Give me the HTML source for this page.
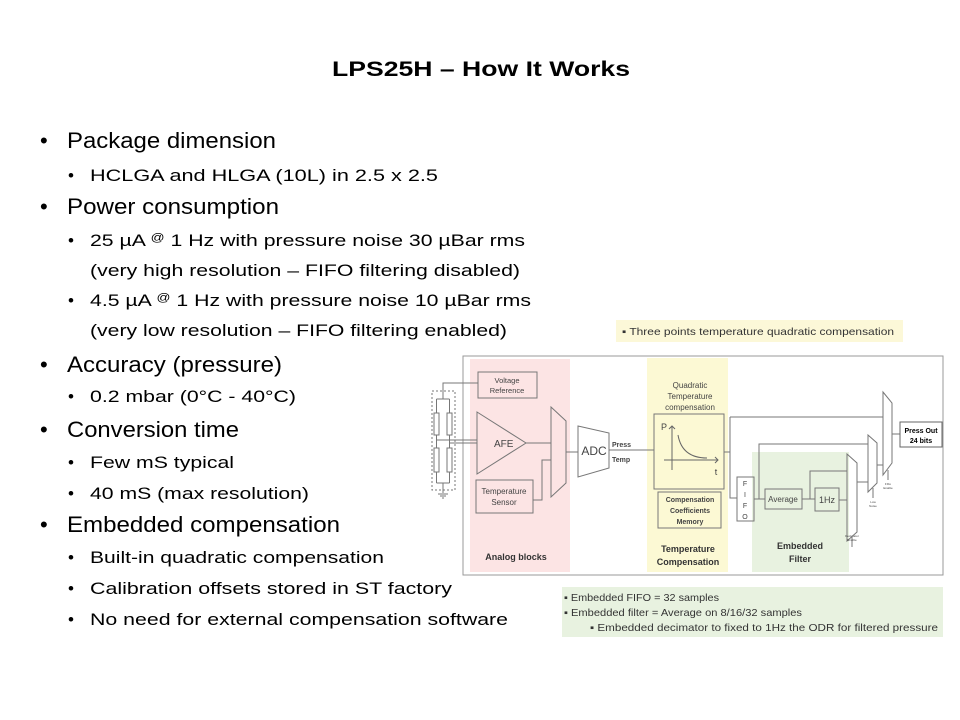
<!DOCTYPE html>
<html><head><meta charset="utf-8"><style>
html,body{margin:0;padding:0;background:#fff;}
svg{display:block;}
text{font-family:"Liberation Sans",Arial,sans-serif;}
</style></head><body>
<svg width="960" height="720" viewBox="0 0 960 720" xmlns="http://www.w3.org/2000/svg">
<rect width="960" height="720" fill="#fff"/>
<text x="481" y="76" font-size="21" font-weight="bold" text-anchor="middle" textLength="298" lengthAdjust="spacingAndGlyphs">LPS25H – How It Works</text>

<g font-size="22" fill="#000">
<text x="40" y="148">•</text><text x="67" y="148" textLength="209" lengthAdjust="spacingAndGlyphs">Package dimension</text>
<text x="40" y="214">•</text><text x="67" y="214" textLength="212" lengthAdjust="spacingAndGlyphs">Power consumption</text>
<text x="40" y="372">•</text><text x="67" y="372" textLength="215" lengthAdjust="spacingAndGlyphs">Accuracy (pressure)</text>
<text x="40" y="437">•</text><text x="67" y="437" textLength="172" lengthAdjust="spacingAndGlyphs">Conversion time</text>
<text x="40" y="532">•</text><text x="67" y="532" textLength="273" lengthAdjust="spacingAndGlyphs">Embedded compensation</text>
</g>
<g font-size="17" fill="#000">
<text x="68" y="181">•</text><text x="90" y="181" textLength="348" lengthAdjust="spacingAndGlyphs">HCLGA and HLGA (10L) in  2.5 x 2.5</text>
<text x="68" y="246">•</text><text x="90" y="246" textLength="435" lengthAdjust="spacingAndGlyphs">25 µA <tspan font-size="11" dy="-5">@</tspan><tspan dy="5"> 1 Hz with pressure noise 30 µBar rms</tspan></text>
<text x="90" y="276" textLength="430" lengthAdjust="spacingAndGlyphs">(very high resolution – FIFO filtering disabled)</text>
<text x="68" y="306">•</text><text x="90" y="306" textLength="441" lengthAdjust="spacingAndGlyphs">4.5 µA <tspan font-size="11" dy="-5">@</tspan><tspan dy="5"> 1 Hz with pressure noise 10 µBar rms</tspan></text>
<text x="90" y="336" textLength="417" lengthAdjust="spacingAndGlyphs">(very low resolution – FIFO filtering enabled)</text>
<text x="68" y="402">•</text><text x="90" y="402" textLength="206" lengthAdjust="spacingAndGlyphs">0.2 mbar (0°C - 40°C)</text>
<text x="68" y="468">•</text><text x="90" y="468" textLength="144" lengthAdjust="spacingAndGlyphs">Few mS typical</text>
<text x="68" y="499">•</text><text x="90" y="499" textLength="219" lengthAdjust="spacingAndGlyphs">40 mS (max resolution)</text>
<text x="68" y="563">•</text><text x="90" y="563" textLength="294" lengthAdjust="spacingAndGlyphs">Built-in quadratic compensation</text>
<text x="68" y="594">•</text><text x="90" y="594" textLength="362" lengthAdjust="spacingAndGlyphs">Calibration offsets stored in ST factory</text>
<text x="68" y="625">•</text><text x="90" y="625" textLength="418" lengthAdjust="spacingAndGlyphs">No need for external compensation software</text>
</g>

<!-- notes -->
<rect x="616" y="320" width="287" height="22" fill="#fcf8d8"/>
<text x="622" y="335" font-size="10.5" fill="#333" textLength="272" lengthAdjust="spacingAndGlyphs">▪ Three points temperature quadratic compensation</text>
<rect x="562" y="587" width="381" height="50" fill="#e8f2e0"/>
<g font-size="10.5" fill="#333">
<text x="564" y="601" textLength="155" lengthAdjust="spacingAndGlyphs">▪ Embedded FIFO = 32 samples</text>
<text x="564" y="616" textLength="238" lengthAdjust="spacingAndGlyphs">▪ Embedded filter = Average on 8/16/32 samples</text>
<text x="590" y="631" textLength="348" lengthAdjust="spacingAndGlyphs">▪ Embedded decimator to fixed to 1Hz the ODR for filtered pressure</text>
</g>

<!-- frame -->
<rect x="463" y="356" width="480" height="219" fill="#fff" stroke="#999" stroke-width="1"/>
<rect x="470" y="359" width="100" height="213" fill="#fce4e4"/>
<rect x="647" y="358" width="81" height="214" fill="#fcf9d4"/>
<rect x="752" y="452" width="97" height="120" fill="#e8f2e0"/>

<g fill="none" stroke="#777" stroke-width="1">
<!-- bridge -->
<rect x="432" y="391" width="23" height="99" stroke-dasharray="2,2"/>
<path d="M436.5 399 H449.5 M436.5 399 V483 M449.5 399 V483 M436.5 483 H449.5 M443 483 V493 M438 494 H448 M440 496 H446 M442 498 H444"/>
<rect x="434" y="413" width="5" height="22" fill="#fff"/>
<rect x="447" y="413" width="5" height="22" fill="#fff"/>
<rect x="434" y="448" width="5" height="24" fill="#fff"/>
<rect x="447" y="448" width="5" height="24" fill="#fff"/>
<path d="M436.5 440 H477 M449.5 443 H477 M443 399 V383 H478"/>
<!-- analog blocks -->
<rect x="478" y="372" width="59" height="26"/>
<path d="M477 412 L526 443 L477 474 Z"/>
<rect x="476" y="480" width="57" height="33"/>
<path d="M551 407 L566 421 L566 483 L551 497 Z"/>
<path d="M526 443 H551 M533 500 H542 V460 H551 M566 452 H578"/>
<path d="M578 426 L609 433 L609 468 L578 477 Z"/>
<path d="M609 450 H654"/>
<!-- temp comp -->
<rect x="654" y="414" width="70" height="75"/>
<rect x="658" y="492" width="63" height="36"/>
<path d="M724 452 H730 M730 417 V498 H737 M730 417 H883"/>
<rect x="737" y="477" width="17" height="44"/>
<path d="M754 499 H765 M759 499 V444 H868"/>
<rect x="765" y="489" width="37" height="20"/>
<path d="M802 499 H815 M810 499 V471 H847"/>
<rect x="815" y="488" width="24" height="23"/>
<path d="M839 500 H847"/>
<path d="M847 454 L857 463 L857 532 L847 541 Z"/>
<path d="M852 537 V547 M857 482 H868"/>
<path d="M868 435 L877 443 L877 483 L868 492 Z"/>
<path d="M873 488 V498 M877 465 H883"/>
<path d="M883 392 L892 403 L892 463 L883 475 Z"/>
<path d="M888 470 V480 M892 434 H900"/>
</g>
<g stroke="#666" fill="none" stroke-width="1">
<path d="M672 426 V470 M664 460 H718 M715 457 L718 460 L715 463 M669 429 L672 426 L675 429"/>
<path d="M678 435 Q682 458 707 458"/>
</g>
<rect x="900" y="422" width="42" height="25" fill="#fff" stroke="#666"/>

<g fill="#444" text-anchor="middle">
<text x="507" y="383" font-size="7.5">Voltage</text>
<text x="507" y="393" font-size="7.5">Reference</text>
<text x="494" y="447" font-size="10" text-anchor="start" x2="0">AFE</text>
<text x="504" y="494" font-size="8">Temperature</text>
<text x="504" y="505" font-size="8">Sensor</text>
<text x="516" y="560" font-size="9" font-weight="bold" fill="#333">Analog blocks</text>
<text x="594" y="455" font-size="12">ADC</text>
<text x="612" y="447" font-size="7" font-weight="bold" text-anchor="start">Press</text>
<text x="612" y="462" font-size="7" font-weight="bold" text-anchor="start">Temp</text>
<text x="690" y="388" font-size="8">Quadratic</text>
<text x="690" y="399" font-size="8">Temperature</text>
<text x="690" y="410" font-size="8">compensation</text>
<text x="664" y="430" font-size="9">P</text>
<text x="716" y="475" font-size="9">t</text>
<text x="690" y="502" font-size="7" font-weight="bold">Compensation</text>
<text x="690" y="513" font-size="7" font-weight="bold">Coefficients</text>
<text x="690" y="524" font-size="7" font-weight="bold">Memory</text>
<text x="688" y="552" font-size="9" font-weight="bold" fill="#333">Temperature</text>
<text x="688" y="565" font-size="9" font-weight="bold" fill="#333">Compensation</text>
<g font-size="7"><text x="745" y="486">F</text><text x="745" y="497">I</text><text x="745" y="508">F</text><text x="745" y="519">O</text></g>
<text x="783" y="502" font-size="8">Average</text>
<text x="827" y="503" font-size="9">1Hz</text>
<text x="800" y="549" font-size="9" font-weight="bold" fill="#333">Embedded</text>
<text x="800" y="562" font-size="9" font-weight="bold" fill="#333">Filter</text>
<g font-size="3"><text x="852" y="537">Decimator</text><text x="852" y="541">Enable</text>
<text x="873" y="503">Low</text><text x="873" y="507">Noise</text>
<text x="888" y="485">FIFo</text><text x="888" y="489">Enable</text></g>
<text x="921" y="433" font-size="7" font-weight="bold" fill="#000">Press Out</text>
<text x="921" y="443" font-size="7" font-weight="bold" fill="#000">24 bits</text>
</g>
</svg>
</body></html>
